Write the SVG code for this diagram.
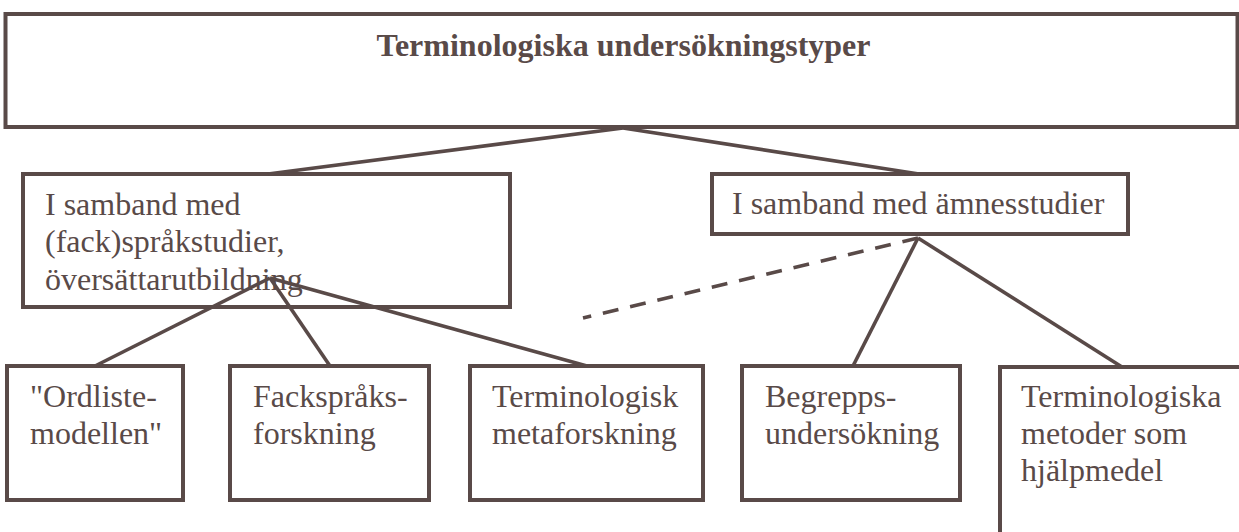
<svg xmlns="http://www.w3.org/2000/svg" width="1239" height="532" viewBox="0 0 1239 532">
<style>
.box{fill:#ffffff;stroke:#594a48;stroke-width:4}
.t{font-family:"Liberation Serif","Times New Roman",serif;font-size:32px;fill:#594a48}
.title{font-weight:bold;text-anchor:middle}
.c{stroke:#594a48;stroke-width:3.6;fill:none;stroke-linecap:butt}
.d{stroke-dasharray:16 12}
</style>
<rect width="1239" height="532" fill="#ffffff"/>
<g id="root">
<rect class="box" x="5.5" y="14" width="1232" height="113"/>
<text class="t title" x="623.5" y="56">Terminologiska undersökningstyper</text>
</g>
<g id="sprak">
<rect class="box" x="23" y="174" width="487" height="133"/>
<text class="t" x="45" y="215">I samband med</text>
<text class="t" x="45" y="252">(fack)språkstudier,</text>
<text class="t" x="45" y="290">översättarutbildning</text>
</g>
<g id="amne">
<rect class="box" x="712" y="174" width="416" height="60"/>
<text class="t" x="732" y="214">I samband med ämnesstudier</text>
</g>
<g id="ordliste">
<rect class="box" x="7" y="366" width="176" height="134"/>
<text class="t" x="30" y="407">"Ordliste-</text>
<text class="t" x="30" y="444">modellen"</text>
</g>
<g id="facksprak">
<rect class="box" x="230" y="366" width="199" height="134"/>
<text class="t" x="253" y="407">Fackspråks-</text>
<text class="t" x="253" y="444">forskning</text>
</g>
<g id="metafor">
<rect class="box" x="470" y="366" width="233" height="134"/>
<text class="t" x="492" y="407">Terminologisk</text>
<text class="t" x="492" y="444">metaforskning</text>
</g>
<g id="begrepp">
<rect class="box" x="742" y="366" width="218" height="134"/>
<text class="t" x="765" y="407">Begrepps-</text>
<text class="t" x="765" y="444">undersökning</text>
</g>
<g id="metoder">
<rect class="box" x="1000" y="367" width="260" height="200"/>
<text class="t" x="1021" y="407">Terminologiska</text>
<text class="t" x="1021" y="444">metoder som</text>
<text class="t" x="1021" y="481">hjälpmedel</text>
</g>
<g id="connectors">
<line class="c" x1="623" y1="128" x2="268" y2="174"/>
<line class="c" x1="623" y1="128" x2="919" y2="174"/>
<line class="c" x1="270" y1="278" x2="95" y2="366"/>
<line class="c" x1="270" y1="278" x2="330" y2="366"/>
<line class="c" x1="270" y1="278" x2="587" y2="366"/>
<line class="c" x1="918" y1="238" x2="853" y2="366"/>
<line class="c" x1="918" y1="238" x2="1122" y2="367"/>
<line class="c d" x1="918" y1="238" x2="583" y2="318"/>
</g>
</svg>
